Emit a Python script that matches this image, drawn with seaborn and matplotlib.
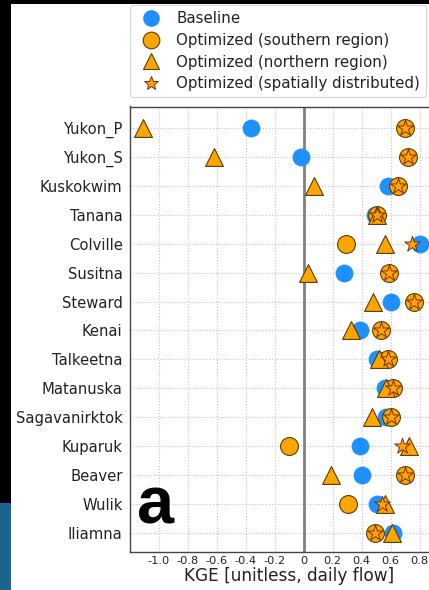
import matplotlib
matplotlib.use("Agg")
import matplotlib.pyplot as plt
from matplotlib.lines import Line2D
from matplotlib.patches import Rectangle
import seaborn as sns
import pandas as pd

basins = ["Yukon_P", "Yukon_S", "Kuskokwim", "Tanana", "Colville", "Susitna",
          "Steward", "Kenai", "Talkeetna", "Matanuska", "Sagavanirktok",
          "Kuparuk", "Beaver", "Wulik", "Iliamna"]
baseline = [-0.36, -0.02, 0.58, 0.49, 0.80, 0.28, 0.60, 0.39, 0.51, 0.56, 0.57, 0.39, 0.40, 0.51, 0.62]
southern = [0.70, 0.72, 0.655, 0.51, 0.29, 0.59, 0.765, 0.535, 0.58, 0.62, 0.60, -0.10, 0.70, 0.31, 0.49]
northern = [-1.11, -0.62, 0.07, 0.51, 0.56, 0.03, 0.48, 0.33, 0.52, 0.57, 0.47, 0.73, 0.19, 0.56, 0.61]
spatial = [0.70, 0.72, 0.655, 0.51, 0.75, 0.59, 0.765, 0.535, 0.58, 0.62, 0.60, 0.68, 0.70, 0.54, 0.49]
xtick_vals = [-1.0, -0.8, -0.6, -0.4, -0.2, 0.0, 0.2, 0.4, 0.6, 0.8]
xtick_labels = ["-1.0", "-0.8", "-0.6", "-0.4", "-0.2", "0", "0.2", "0.4", "0.6", "0.8"]
legend_labels = ["Baseline", "Optimized (southern region)",
                 "Optimized (northern region)", "Optimized (spatially distributed)"]

df = pd.DataFrame({"basin": basins, "baseline": baseline, "southern": southern,
                   "northern": northern, "spatial": spatial})
df["pos"] = range(len(basins))

sns.set_style("white")
plt.rcParams["font.family"] = ["DejaVu Sans"]

BLUE = "#1E90FF"
ORANGE = "#FFA500"
EDGE = "#5a3d05"

W, H = 429, 590
fig = plt.figure(figsize=(W / 100, H / 100), dpi=100)
fig.patch.set_facecolor("white")

x0, x1 = -1.2, 1.0
left_px, top_px, bot_px = 129.5, 106.5, 551.7
px_per_unit = 145.0
width_px = (x1 - x0) * px_per_unit
ax = fig.add_axes([left_px / W, (H - bot_px) / H, width_px / W, (bot_px - top_px) / H])

ax.axvline(0, color="#808080", lw=2.0, zorder=1.5)

S = 165
sns.scatterplot(data=df, x="baseline", y="pos", ax=ax, color=BLUE, s=S,
                marker="o", linewidth=0, zorder=3, legend=False)
sns.scatterplot(data=df, x="southern", y="pos", ax=ax, color=ORANGE, s=S,
                marker="o", edgecolor=EDGE, linewidth=0.8, zorder=4, legend=False)
sns.scatterplot(data=df, x="northern", y="pos", ax=ax, color=ORANGE, s=S,
                marker="^", edgecolor=EDGE, linewidth=0.8, zorder=5, legend=False)
sns.scatterplot(data=df, x="spatial", y="pos", ax=ax, color=ORANGE, s=S * 0.85,
                marker="*", edgecolor="#7a3010", linewidth=0.7, zorder=6, legend=False)

ax.set_xlim(x0, x1)
ax.set_ylim(14.66, -0.75)
ax.set_yticks(range(len(basins)))
ax.set_yticklabels(basins, fontsize=10.6, color="#222222")
ax.set_xticks(xtick_vals)
ax.set_xticklabels(xtick_labels, fontsize=8.2, color="#222222")
ax.set_xlabel("KGE [unitless, daily flow]", fontsize=12.2, color="#222222", labelpad=1)
ax.set_ylabel("")
ax.tick_params(axis="y", length=3, width=0.8, color="#444444", pad=2)
ax.tick_params(axis="x", length=0, pad=3)
ax.grid(True, linestyle=":", color="#c4c4c4", lw=0.8)
ax.set_axisbelow(True)
for sp in ax.spines.values():
    sp.set_color("#444444")
    sp.set_linewidth(1.0)

handles = [
    Line2D([], [], ls="", marker="o", ms=12, mfc=BLUE, mec=BLUE, mew=0),
    Line2D([], [], ls="", marker="o", ms=12, mfc=ORANGE, mec=EDGE, mew=0.8),
    Line2D([], [], ls="", marker="^", ms=12, mfc=ORANGE, mec=EDGE, mew=0.8),
    Line2D([], [], ls="", marker="*", ms=10, mfc=ORANGE, mec="#7a3010", mew=0.7),
]
leg = fig.legend(handles, legend_labels, loc="upper left",
                 bbox_to_anchor=(130 / W, 1 - 5.5 / H), fontsize=10.8,
                 frameon=True, handlelength=2.1, handletextpad=0.62,
                 labelspacing=0.45, borderpad=0.38, borderaxespad=0.0)
leg.get_frame().set_edgecolor("#cccccc")
leg.get_frame().set_linewidth(0.8)
for t in leg.get_texts():
    t.set_color("#222222")

fig.text(137 / W, 1 - 523 / H, "a", fontsize=48, fontweight="bold",
         family="Liberation Sans", color="black", ha="left", va="baseline")

# frame strips of the surrounding picture
fig.patches.append(Rectangle((0, 1 - 4 / H), 1, 4 / H, transform=fig.transFigure,
                             facecolor="black", edgecolor="none", zorder=10))
fig.patches.append(Rectangle((0, (H - 503) / H), 11 / W, 503 / H, transform=fig.transFigure,
                             facecolor="black", edgecolor="none", zorder=10))
fig.patches.append(Rectangle((0, 0), 11 / W, (H - 503) / H, transform=fig.transFigure,
                             facecolor="#1b6391", edgecolor="none", zorder=10))

fig.savefig("out.png", dpi=100)
